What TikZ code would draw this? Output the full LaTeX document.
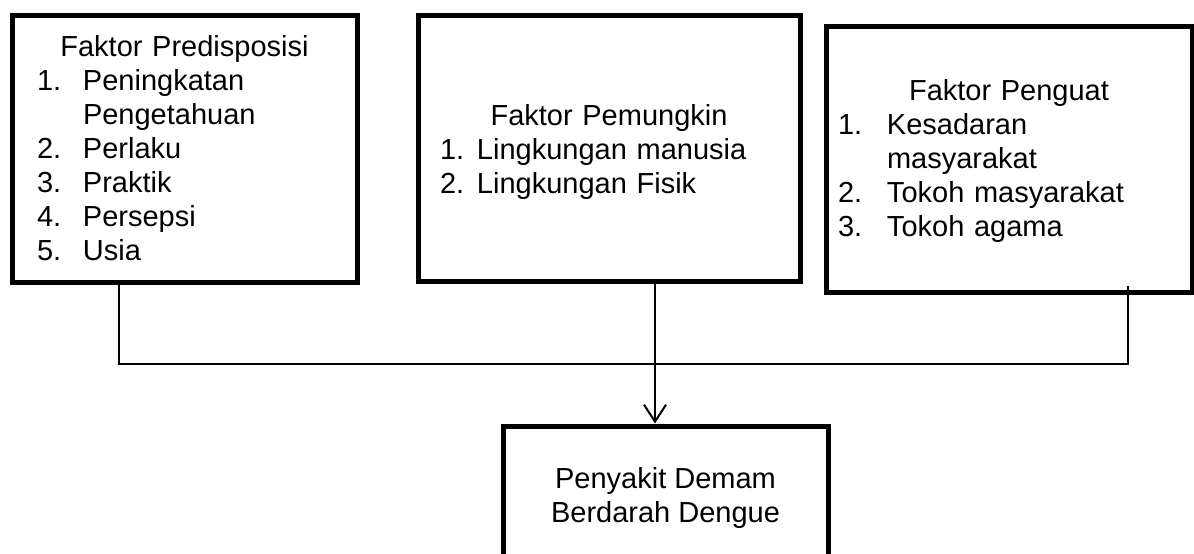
\documentclass[tikz,border=0pt]{standalone}
\usepackage{fontspec}
\setmainfont{Liberation Sans}
\usepackage{tikz}
\usetikzlibrary{positioning,arrows.meta}
\newlength{\nomorkiri}
\newlength{\nomorlebar}
\newcommand{\nomor}[1]{\hspace*{\nomorkiri}\makebox[\nomorlebar][l]{#1}}
\newcommand{\lanjut}{\hspace*{\nomorkiri}\hspace*{\nomorlebar}}
\newcommand{\judul}[1]{\makebox[\linewidth][c]{#1}}

\begin{document}
\begin{tikzpicture}[x=0.5pt, y=-0.5pt,
   every node/.style={font=\fontsize{14.5}{17}\selectfont},
   kotak/.style={draw, line width=2.5pt, inner sep=0pt},
   isi/.style={inner sep=0pt, outer sep=0pt, align=left},
   garis/.style={line width=1pt}]
   \clip (0,0) rectangle (1194,553);
   % Faktor boxes
   \node[kotak, minimum width=172.5pt, minimum height=133.5pt] (predis) at (184.5,148.5) {};
   \node[isi, text width=172.5pt, below=11.5pt of predis.north] (predisisi)
      {\setlength{\nomorkiri}{12.5pt}\setlength{\nomorlebar}{23pt}%
       \judul{Faktor Predisposisi}\\
       \nomor{1.}Peningkatan\\
       \lanjut Pengetahuan\\
       \nomor{2.}Perlaku\\
       \nomor{3.}Praktik\\
       \nomor{4.}Persepsi\\
       \nomor{5.}Usia};
   \node[kotak, minimum width=191pt, minimum height=133pt] (pemungkin) at (609,148) {};
   \node[isi, text width=191pt, below=46pt of pemungkin.north] (pemungkinisi)
      {\setlength{\nomorkiri}{11pt}\setlength{\nomorlebar}{18.5pt}%
       \judul{Faktor Pemungkin}\\
       \nomor{1.}Lingkungan manusia\\
       \nomor{2.}Lingkungan Fisik};
   \node[kotak, minimum width=183pt, minimum height=133pt] (penguat) at (1009,159) {};
   \node[isi, text width=183pt, below=28pt of penguat.north] (penguatisi)
      {\setlength{\nomorkiri}{6pt}\setlength{\nomorlebar}{24.5pt}%
       \judul{Faktor Penguat}\\
       \nomor{1.}Kesadaran\\
       \lanjut masyarakat\\
       \nomor{2.}Tokoh masyarakat\\
       \nomor{3.}Tokoh agama};
   % Outcome box
   \node[kotak, minimum width=162.5pt, minimum height=69pt] (hasil) at (665.5,495) {};
   \node[isi, align=center, below=22pt of hasil.north] (hasilisi)
      {Penyakit Demam\\Berdarah Dengue};

   % Connectors
   \coordinate (kiri) at (119,364);
   \coordinate (kanan) at (1128,364);
   \coordinate (tengah) at (655,364);
   \draw[garis] (predis.south -| kiri) -- (kiri) -- (kanan) -- ([yshift=4.5pt]penguat.south -| kanan);
   \draw[garis, -{Straight Barb[length=8.5pt, width=11pt]}] (pemungkin.south -| tengah) -- (hasil.north -| tengah);
\end{tikzpicture}
\end{document}
